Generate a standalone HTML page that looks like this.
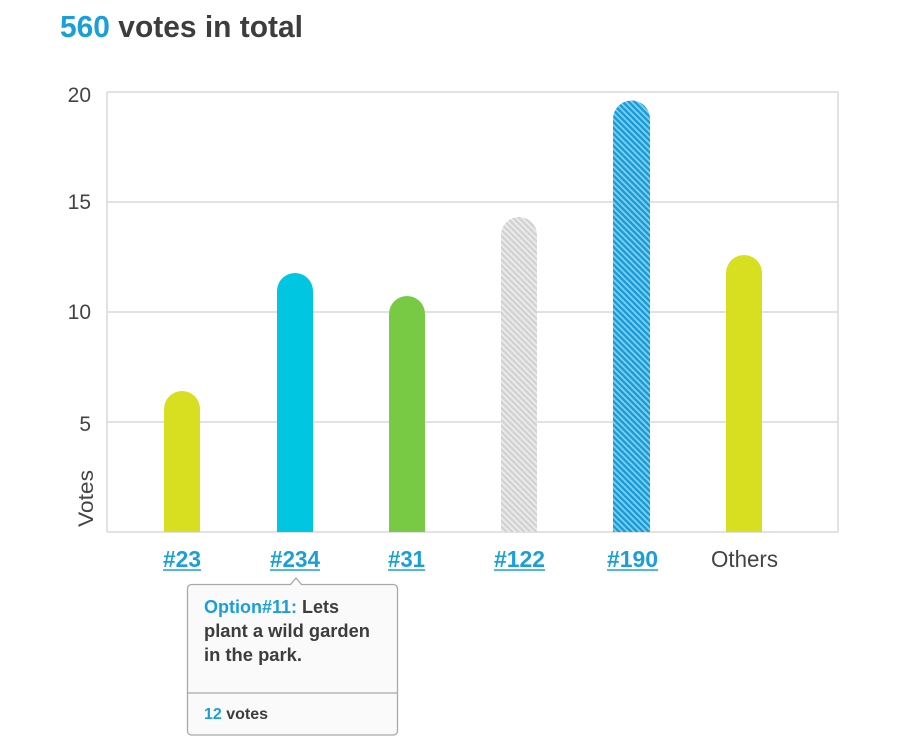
<!DOCTYPE html>
<html>
<head>
<meta charset="utf-8">
<style>
html,body{margin:0;padding:0;background:#fff;}
svg{display:block;}
text{font-family:"Liberation Sans",sans-serif;}
</style>
</head>
<body>
<svg width="900" height="750" viewBox="0 0 900 750" xmlns="http://www.w3.org/2000/svg">
<defs>
<pattern id="hg" width="4.2" height="4.2" patternUnits="userSpaceOnUse" patternTransform="rotate(-45)">
<rect width="4.2" height="4.2" fill="#d2d2d2"/>
<rect width="1.8" height="4.2" fill="#ececec"/>
</pattern>
<pattern id="hb" width="4.2" height="4.2" patternUnits="userSpaceOnUse" patternTransform="rotate(-45)">
<rect width="4.2" height="4.2" fill="#1a9bd6"/>
<rect width="1.8" height="4.2" fill="#7fd0ef"/>
</pattern>
</defs>

<!-- title -->
<text x="60" y="37" font-size="31" font-weight="bold" textLength="243" lengthAdjust="spacingAndGlyphs"><tspan fill="#1a9fd9">560</tspan><tspan fill="#3d3d3d"> votes in total</tspan></text>

<!-- grid -->
<g stroke="#d9d9d9" stroke-width="1.5" fill="none">
<line x1="107" y1="92" x2="838" y2="92"/>
<line x1="107" y1="202" x2="838" y2="202"/>
<line x1="107" y1="312" x2="838" y2="312"/>
<line x1="107" y1="422" x2="838" y2="422"/>
<line x1="107" y1="532" x2="838" y2="532"/>
<line x1="107" y1="92" x2="107" y2="532"/>
<line x1="838" y1="92" x2="838" y2="532"/>
</g>

<!-- y ticks -->
<g fill="#444" font-size="21" text-anchor="end">
<text x="91" y="102">20</text>
<text x="91" y="209">15</text>
<text x="91" y="319">10</text>
<text x="91" y="431">5</text>
</g>
<text transform="translate(93,527) rotate(-90)" font-size="21" fill="#444" textLength="57" lengthAdjust="spacingAndGlyphs">Votes</text>

<!-- bars -->
<path d="M164,532 V409 A18,18 0 0 1 200,409 V532 Z" fill="#d8df21"/>
<path d="M277,532 V291 A18,18 0 0 1 313,291 V532 Z" fill="#00c6e2"/>
<path d="M389,532 V314 A18,18 0 0 1 425,314 V532 Z" fill="#78c943"/>
<path d="M501,532 V235 A18,18 0 0 1 537,235 V532 Z" fill="url(#hg)"/>
<path d="M613,532 V119 A18,18 0 0 1 650,119 V532 Z" fill="url(#hb)"/>
<path d="M726,532 V273 A18,18 0 0 1 762,273 V532 Z" fill="#d8df21"/>

<!-- x labels -->
<g fill="#1a9fd9" font-size="23" font-weight="bold">
<text x="163" y="567" textLength="38" lengthAdjust="spacingAndGlyphs">#23</text>
<text x="270" y="567" textLength="50" lengthAdjust="spacingAndGlyphs">#234</text>
<text x="388" y="567" textLength="37" lengthAdjust="spacingAndGlyphs">#31</text>
<text x="494" y="567" textLength="51" lengthAdjust="spacingAndGlyphs">#122</text>
<text x="607" y="567" textLength="51" lengthAdjust="spacingAndGlyphs">#190</text>
</g>
<g stroke="#1a9fd9" stroke-width="1.5">
<line x1="163" y1="570" x2="201" y2="570"/>
<line x1="270" y1="570" x2="320" y2="570"/>
<line x1="388" y1="570" x2="425" y2="570"/>
<line x1="494" y1="570" x2="545" y2="570"/>
<line x1="607" y1="570" x2="658" y2="570"/>
</g>
<text x="711" y="567" font-size="23" fill="#444" textLength="67" lengthAdjust="spacingAndGlyphs">Others</text>

<!-- tooltip -->
<path d="M191.5,584.5 H290.5 L296,578 L301.5,584.5 H393.5 A4,4 0 0 1 397.5,588.5 V731 A4,4 0 0 1 393.5,735 H191.5 A4,4 0 0 1 187.5,731 V588.5 A4,4 0 0 1 191.5,584.5 Z" fill="#fafafa" stroke="#a9a9a9" stroke-width="1.3"/>
<line x1="188" y1="693" x2="397" y2="693" stroke="#a9a9a9" stroke-width="1.3"/>
<g font-size="18" font-weight="bold" fill="#3d3d3d">
<text x="204" y="613" textLength="135" lengthAdjust="spacingAndGlyphs"><tspan fill="#1a9fd9">Option#11:</tspan> Lets</text>
<text x="204" y="637" textLength="166" lengthAdjust="spacingAndGlyphs">plant a wild garden</text>
<text x="204" y="661" textLength="98" lengthAdjust="spacingAndGlyphs">in the park.</text>
</g>
<text x="204" y="719" font-size="16" font-weight="bold" fill="#3d3d3d" textLength="64" lengthAdjust="spacingAndGlyphs"><tspan fill="#1a9fd9">12</tspan> votes</text>
</svg>
</body>
</html>
